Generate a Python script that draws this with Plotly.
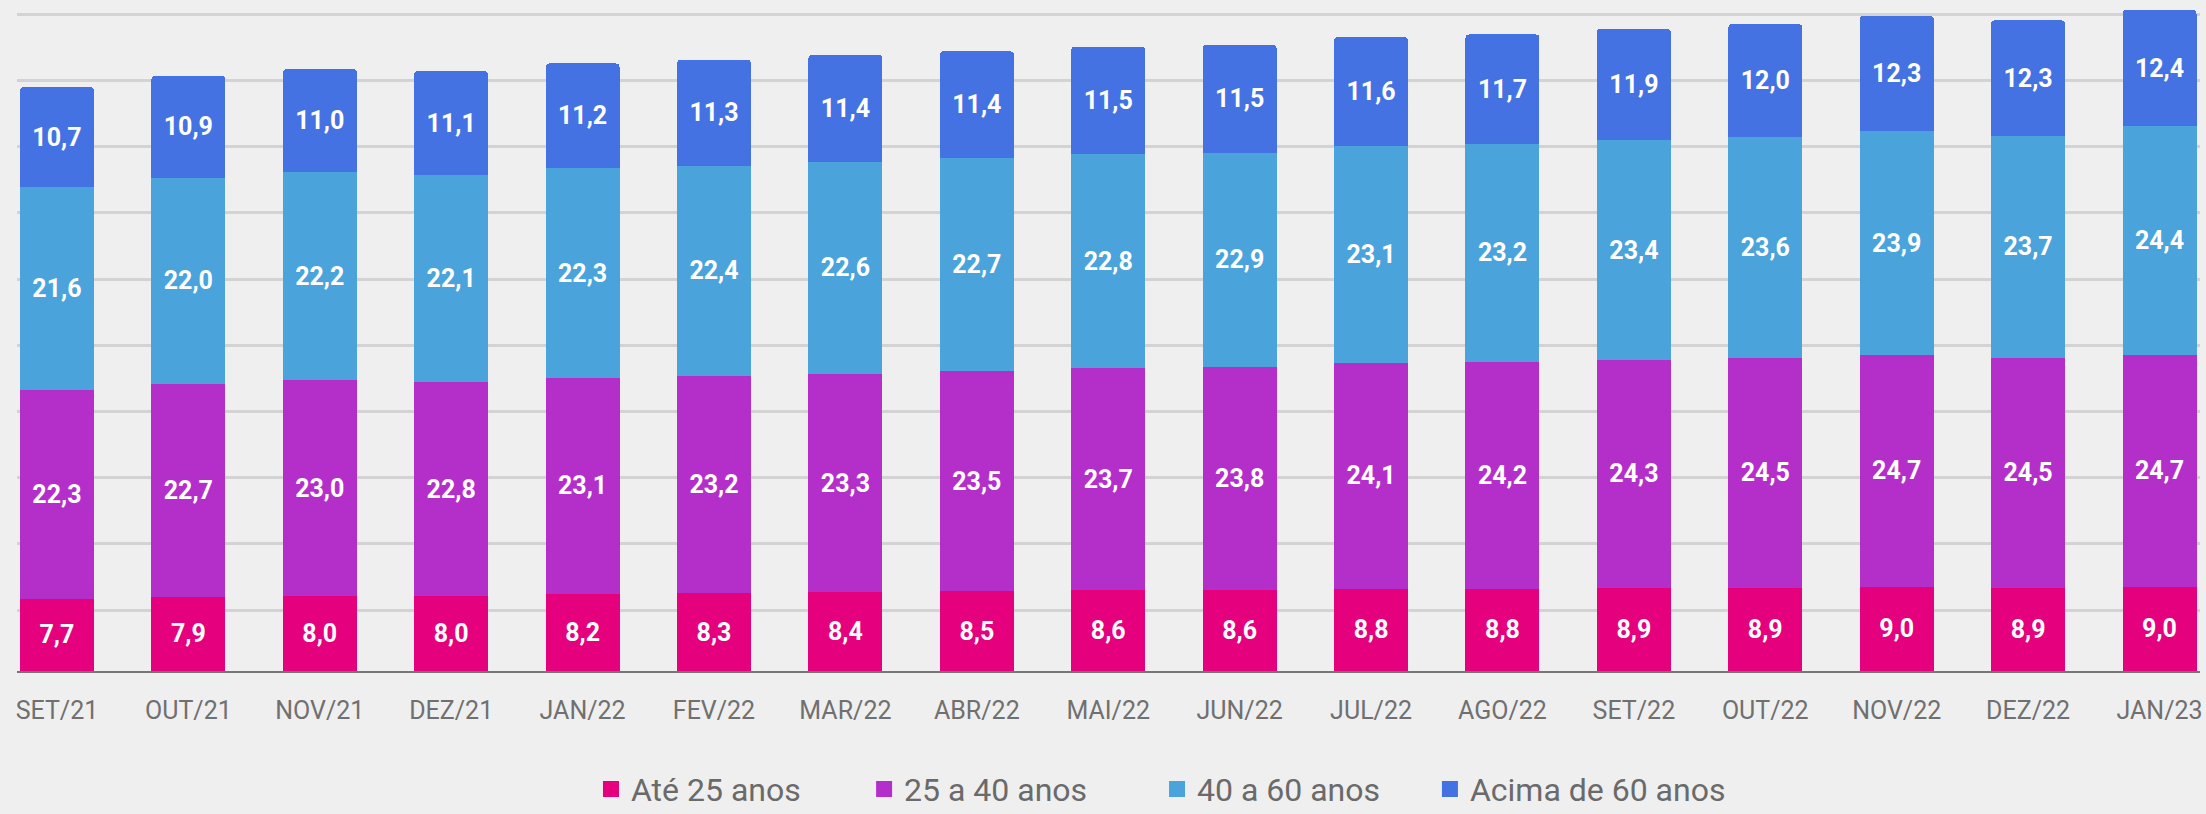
import plotly.graph_objects as go

months = ["SET/21", "OUT/21", "NOV/21", "DEZ/21", "JAN/22", "FEV/22", "MAR/22", "ABR/22",
          "MAI/22", "JUN/22", "JUL/22", "AGO/22", "SET/22", "OUT/22", "NOV/22", "DEZ/22", "JAN/23"]

ate_25 = [7.7, 7.9, 8.0, 8.0, 8.2, 8.3, 8.4, 8.5, 8.6, 8.6, 8.8, 8.8, 8.9, 8.9, 9.0, 8.9, 9.0]
de_25_40 = [22.3, 22.7, 23.0, 22.8, 23.1, 23.2, 23.3, 23.5, 23.7, 23.8, 24.1, 24.2, 24.3, 24.5, 24.7, 24.5, 24.7]
de_40_60 = [21.6, 22.0, 22.2, 22.1, 22.3, 22.4, 22.6, 22.7, 22.8, 22.9, 23.1, 23.2, 23.4, 23.6, 23.9, 23.7, 24.4]
acima_60 = [10.7, 10.9, 11.0, 11.1, 11.2, 11.3, 11.4, 11.4, 11.5, 11.5, 11.6, 11.7, 11.9, 12.0, 12.3, 12.3, 12.4]

series = [
    ("Até 25 anos", ate_25, "#E5007E"),
    ("25 a 40 anos", de_25_40, "#B42FCA"),
    ("40 a 60 anos", de_40_60, "#4BA3DB"),
    ("Acima de 60 anos", acima_60, "#4472E3"),
]
legend_ids = ["legend", "legend2", "legend3", "legend4"]
legend_x = [0.2679, 0.3917, 0.5245, 0.6482]

fig = go.Figure()
for i, (name, vals, color) in enumerate(series):
    fig.add_trace(go.Bar(
        x=months, y=vals, name=name, legendgroup=f"g{i}", showlegend=False,
        marker=dict(color=color, line=dict(width=0)),
        texttemplate="%{y:.1f}",
        textposition="inside",
        insidetextanchor="middle",
        textangle=0,
        constraintext="none",
        textfont=dict(family="Roboto", size=25, color="white", weight="bold"),
        hoverinfo="skip",
    ))
# legend entries with larger square swatches, linked to the bars
for i, (name, vals, color) in enumerate(series):
    fig.add_trace(go.Scatter(
        x=[None], y=[None], name=name, legendgroup=f"g{i}", mode="markers",
        marker=dict(symbol="square", size=16, color=color),
        legend=legend_ids[i], hoverinfo="skip",
    ))

BG = "#EFEFEF"
legend_common = dict(
    orientation="h", xref="container", yref="container",
    xanchor="left", y=0.0305, yanchor="middle",
    font=dict(size=32, color="#6A6A6A", family="Roboto"),
    bgcolor="rgba(0,0,0,0)",
)
fig.update_layout(
    barmode="stack",
    bargap=0.437,
    barcornerradius=4,
    separators=",.",
    width=2206, height=814,
    margin=dict(l=17, r=6, t=0, b=143, autoexpand=False),
    paper_bgcolor=BG, plot_bgcolor=BG,
    font=dict(family="Roboto", color="#6E6E6E"),
    showlegend=True,
    xaxis=dict(
        type="category", range=[-0.304, 16.308],
        showgrid=False, showline=True, linecolor="#767676", linewidth=2,
        ticks="outside", ticklen=16, tickcolor="rgba(0,0,0,0)",
        tickfont=dict(size=25, color="#707070", family="Roboto"),
        fixedrange=True,
    ),
    yaxis=dict(
        range=[0, 71.57], showticklabels=False, zeroline=False,
        showgrid=True, gridcolor="#D3D3D3", gridwidth=3,
        tick0=6.5, dtick=7.06, tickmode="linear",
        fixedrange=True,
    ),
)
for lid, lx in zip(legend_ids, legend_x):
    fig.update_layout({lid: dict(legend_common, x=lx)})

fig.write_html("out.html", config={"displayModeBar": False},
               post_script="document.body.style.margin='0';document.body.style.overflow='hidden';")
